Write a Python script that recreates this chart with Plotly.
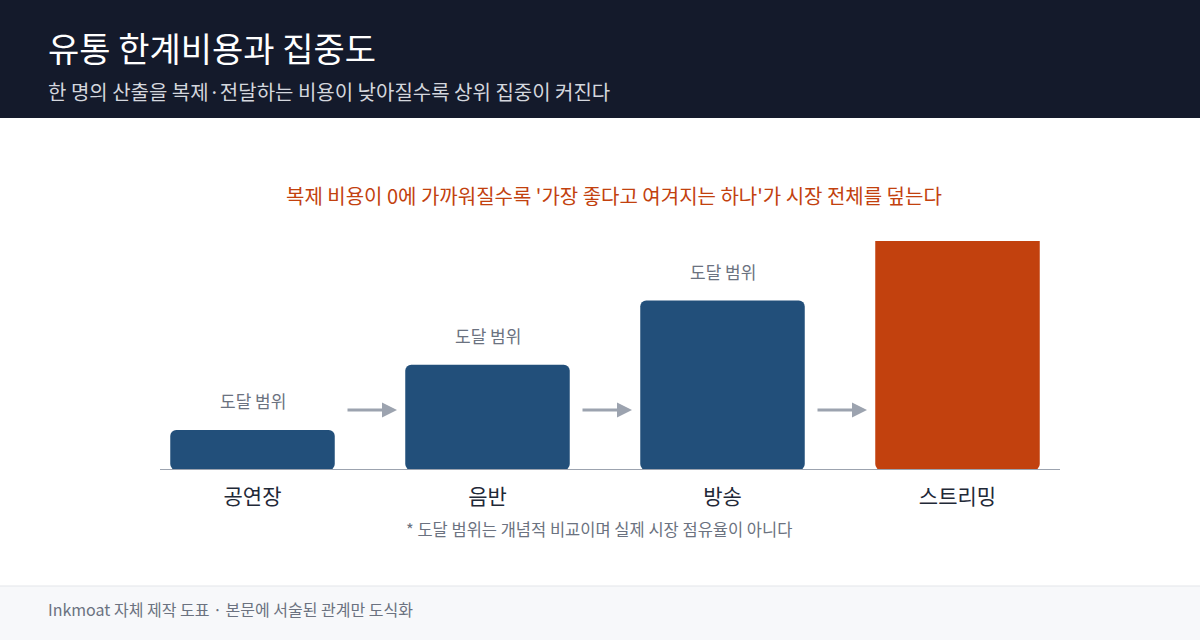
import plotly.graph_objects as go

categories = ["공연장", "음반", "방송", "스트리밍"]
reach = [17.5, 46, 74, 125]
colors = ["#224f7a", "#224f7a", "#224f7a", "#c2410e"]
bar_label = "도달 범위"

title = "유통 한계비용과 집중도"
subtitle = "한 명의 산출을 복제·전달하는 비용이 낮아질수록 상위 집중이 커진다"
headline = "복제 비용이 0에 가까워질수록 '가장 좋다고 여겨지는 하나'가 시장 전체를 덮는다"
footnote = "* 도달 범위는 개념적 비교이며 실제 시장 점유율이 아니다"
source = "Inkmoat 자체 제작 도표 · 본문에 서술된 관계만 도식화"

FONT = "Noto Sans CJK KR"
YMAX = 100

W, H = 1200, 640
ML, MR, MT, MB = 135, 125, 241, 170
PW = W - ML - MR
PH = H - MT - MB


def px(xp):
    return (xp - ML) / PW


def py(yp):
    return (H - MB - yp) / PH


x_idx = list(range(len(categories)))

fig = go.Figure()
fig.add_trace(go.Bar(
    x=x_idx, y=reach, base=[0] * len(reach),
    marker=dict(color=colors, cornerradius=6, line=dict(width=0)),
    width=0.7, hoverinfo="skip", showlegend=False,
))

shapes = [
    dict(type="rect", xref="paper", yref="paper", x0=px(0), x1=px(W),
         y0=py(118), y1=py(0), fillcolor="#141a2b",
         line=dict(width=0), layer="below"),
    dict(type="rect", xref="paper", yref="paper", x0=px(0), x1=px(W),
         y0=py(H), y1=py(586), fillcolor="#f7f8fa",
         line=dict(width=0), layer="below"),
    dict(type="line", xref="paper", yref="paper", x0=px(0), x1=px(W),
         y0=py(586), y1=py(586), line=dict(color="#e3e5e9", width=1)),
    dict(type="line", xref="paper", yref="y", x0=px(160), x1=px(1060),
         y0=0, y1=0, line=dict(color="#9ca3af", width=2), layer="above"),
]

annotations = []
for i, v in enumerate(reach):
    if v <= YMAX:
        annotations.append(dict(
            x=i, y=v, xref="x", yref="y", text=bar_label, showarrow=False,
            yshift=29, font=dict(family=FONT, size=17, color="#6b7280"),
        ))
for i in range(len(categories) - 1):
    annotations.append(dict(
        x=i + 0.5 + 27 / (PW / len(categories)), y=py(410), xref="x", yref="paper",
        ax=-51, ay=0, text="", showarrow=True,
        arrowhead=2, arrowsize=1, arrowwidth=3, arrowcolor="#9ca3af",
    ))

annotations += [
    dict(x=px(46), y=py(48), xref="paper", yref="paper", xanchor="left",
         yanchor="middle", text=title, showarrow=False,
         font=dict(family=FONT, size=34, color="#ffffff")),
    dict(x=px(46), y=py(91), xref="paper", yref="paper", xanchor="left",
         yanchor="middle", text=subtitle, showarrow=False,
         font=dict(family=FONT, size=20, color="#d4d7de")),
    dict(x=px(614), y=py(195), xref="paper", yref="paper", xanchor="center",
         yanchor="middle", text=headline, showarrow=False,
         font=dict(family=FONT, size=20, color="#c2410e")),
    dict(x=px(599), y=py(529), xref="paper", yref="paper", xanchor="center",
         yanchor="middle", text=footnote, showarrow=False,
         font=dict(family=FONT, size=16.5, color="#6b7280")),
    dict(x=px(46), y=py(609), xref="paper", yref="paper", xanchor="left",
         yanchor="middle", text=source, showarrow=False,
         font=dict(family=FONT, size=16, color="#6b7280")),
]

fig.update_layout(
    width=W, height=H,
    margin=dict(l=ML, r=MR, t=MT, b=MB, pad=0),
    paper_bgcolor="#ffffff", plot_bgcolor="rgba(0,0,0,0)",
    barmode="overlay",
    shapes=shapes, annotations=annotations,
    font=dict(family=FONT),
    xaxis=dict(tickmode="array", tickvals=x_idx, ticktext=categories,
               range=[-0.5, len(categories) - 0.5], showgrid=False, zeroline=False,
               showline=False, ticks="", tickfont=dict(family=FONT, size=21, color="#1f2937"),
               ticklabelstandoff=12, fixedrange=True),
    yaxis=dict(range=[0, YMAX], visible=False, fixedrange=True),
)

fig.write_html("out.html", config={"displayModeBar": False})
